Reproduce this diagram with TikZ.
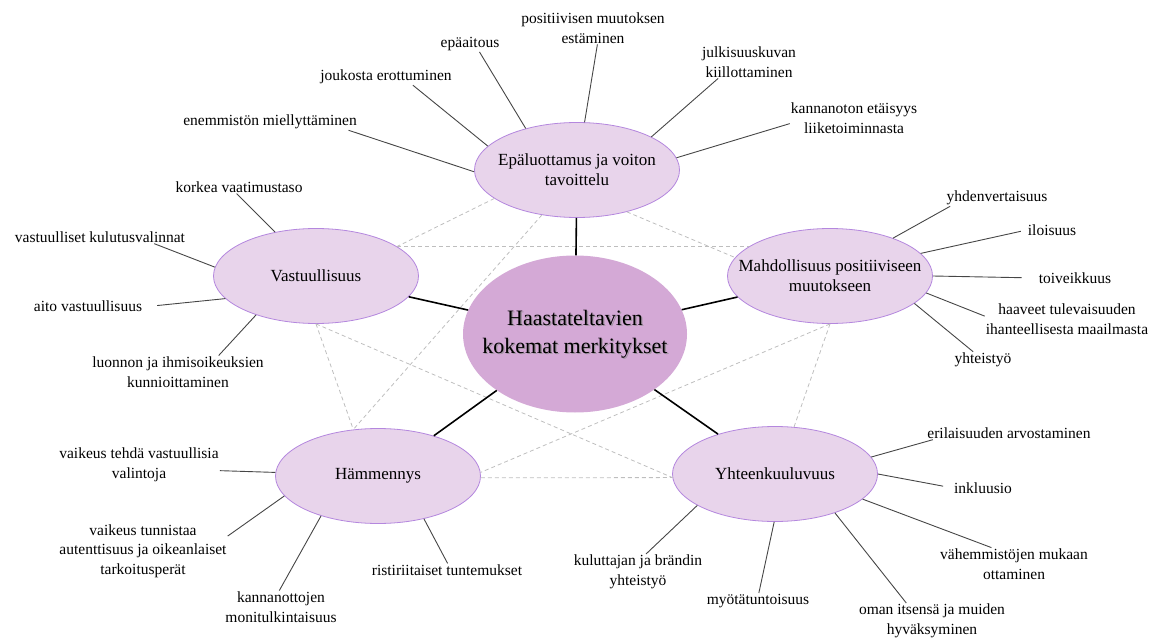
\documentclass[tikz,border=0pt]{standalone}
\usepackage{fontspec}
\setmainfont{Liberation Serif}
\usetikzlibrary{shapes.geometric}
\definecolor{satfill}{RGB}{232,212,235}
\definecolor{satline}{RGB}{180,135,222}
\definecolor{hubfill}{RGB}{212,169,214}
\definecolor{leafline}{RGB}{70,70,70}
\definecolor{dashline}{RGB}{190,190,190}
\newcommand{\satwidth}{205pt}
\newcommand{\satheight}{95pt}

\begin{document}
\begin{tikzpicture}[x=1pt,y=-1pt,
    sat/.style={ellipse,draw=satline,line width=0.8pt,fill=satfill,
        minimum width=\satwidth,minimum height=\satheight,inner sep=0pt},
    satlbl/.style={align=center,inner sep=0pt,font=\fontsize{17}{20}\selectfont},
    hublbl/.style={align=center,inner sep=0pt,font=\fontsize{22}{28}\selectfont},
    leaf/.style={align=center,inner sep=1pt,font=\fontsize{15.5}{19.5}\selectfont}]
    \useasboundingbox (0,0) rectangle (1161,639);

    \node[ellipse,fill=hubfill,minimum width=224pt,minimum height=157pt,inner sep=0pt,
        label={[hublbl,text=black!45,opacity=.7,xshift=1.3pt,yshift=-1.3pt]center:Haastateltavien\\kokemat merkitykset},
        label={[hublbl]center:Haastateltavien\\kokemat merkitykset}] (hub) at (575,334) {};

    \node[sat,label={[satlbl]center:Epäluottamus ja voiton\\tavoittelu}] (top) at (577,170) {};
    \node[sat,label={[satlbl]center:Vastuullisuus}] (vast) at (316,276) {};
    \node[sat,label={[satlbl]center:Mahdollisuus positiiviseen\\muutokseen}] (mahd) at (830,276) {};
    \node[sat,label={[satlbl]center:Hämmennys}] (ham) at (378,476) {};
    \node[sat,label={[satlbl]center:Yhteenkuuluvuus}] (yht) at (775,474) {};

    \begin{scope}[every node/.style={leaf}]
        \node (posit) at (593,28) {positiivisen muutoksen\\estäminen};
        \node (epaait) at (470,44) {epäaitous};
        \node (joukko) at (386,77) {joukosta erottuminen};
        \node (enemm) at (270,122) {enemmistön miellyttäminen};
        \node (julki) at (749,62) {julkisuuskuvan\\kiillottaminen};
        \node (kannan) at (854,118) {kannanoton etäisyys\\liiketoiminnasta};

        \node (korkea) at (239,187) {korkea vaatimustaso};
        \node (kulutus) at (100,237) {vastuulliset kulutusvalinnat};
        \node (aito) at (88,306) {aito vastuullisuus};
        \node (luonto) at (178,372) {luonnon ja ihmisoikeuksien\\kunnioittaminen};

        \node (yhdenv) at (997,198) {yhdenvertaisuus};
        \node (ilo) at (1052,230) {iloisuus};
        \node (toive) at (1075,278) {toiveikkuus};
        \node (haave) at (1067,319) {haaveet tulevaisuuden\\ihanteellisesta maailmasta};
        \node (yhteis) at (983,360) {yhteistyö};

        \node (vaikeus) at (139,465) {vaikeus tehdä vastuullisia\\valintoja};
        \node (tunnist) at (143,551) {vaikeus tunnistaa\\autenttisuus ja oikeanlaiset\\tarkoitusperät};
        \node (kannanot) at (281,607) {kannanottojen\\monitulkintaisuus};
        \node (ristir) at (447,570) {ristiriitaiset tuntemukset};

        \node (erilais) at (1009,433) {erilaisuuden arvostaminen};
        \node (inkl) at (983,488) {inkluusio};
        \node (vahemm) at (1014,564) {vähemmistöjen mukaan\\ottaminen};
        \node (oman) at (932,621) {oman itsensä ja muiden\\hyväksyminen};
        \node (myota) at (758,601) {myötätuntoisuus};
        \node (kulutt) at (638,572) {kuluttajan ja brändin\\yhteistyö};
    \end{scope}

    \begin{scope}[every edge/.style={draw=dashline,line width=0.8pt,dash pattern=on 4pt off 3pt}]
        \path (top.199) edge (vast.20);
        \path (top.232) edge (ham.118);
        \path (top.320) edge (mahd.169);
        \path (vast.20) edge (mahd.160);
        \path (vast.270) edge (ham.118);
        \path (vast.270) edge (yht.182);
        \path (mahd.270) edge (ham.2);
        \path (mahd.270) edge (yht.68);
        \path (ham.359) edge (yht.182);
    \end{scope}

    \begin{scope}[every edge/.style={draw=black,line width=1.6pt}]
        \path (hub) edge (top);
        \path (hub) edge (vast);
        \path (hub) edge (mahd);
        \path (hub) edge (ham);
        \path (hub) edge (yht);
    \end{scope}

    \begin{scope}[every edge/.style={draw=leafline,line width=0.9pt}]
        \path (top.81) edge (posit.285);
        \path (top.141) edge (epaait.320);
        \path (top.165) edge (joukko.343);
        \path (top.181) edge (enemm.354);
        \path (top.24) edge (julki.208);
        \path (top.7) edge (kannan.185);

        \path (vast.133) edge (korkea.250);
        \path (vast.175) edge (kulutus.353);
        \path (vast.194) edge[shorten >=14pt] (aito.359);
        \path (vast.213) edge (luonto.22);

        \path (mahd.31) edge (yhdenv.190);
        \path (mahd.14) edge[shorten >=6pt] (ilo.180);
        \path (mahd.0) edge[shorten >=16pt] (toive.180);
        \path (mahd.350) edge (haave.178);
        \path (mahd.342) edge (yhteis.140);

        \path (ham.178) edge (vaikeus.356);
        \path (ham.192) edge (tunnist.10);
        \path (ham.215) edge (kannanot.96);
        \path (ham.317) edge (ristir.85);

        \path (yht.10) edge (erilais.185);
        \path (yht.0) edge[shorten >=10pt] (inkl.180);
        \path (yht.344) edge (vahemm.144);
        \path (yht.327) edge (oman.145);
        \path (yht.269) edge (myota.84);
        \path (yht.202) edge (kulutt.66);
    \end{scope}
\end{tikzpicture}
\end{document}
